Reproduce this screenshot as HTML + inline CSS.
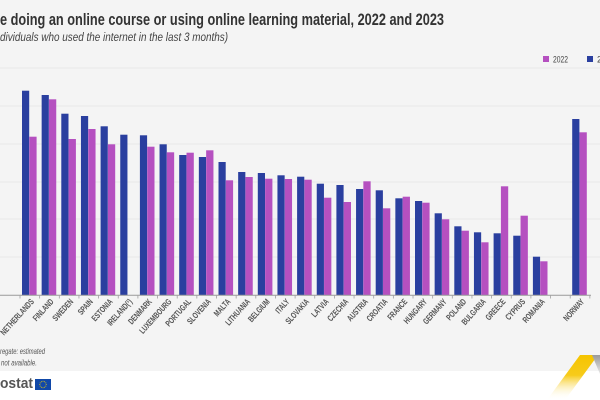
<!DOCTYPE html>
<html>
<head>
<meta charset="utf-8">
<style>
html,body{margin:0;padding:0;background:#fff;}
svg{display:block;}
</style>
</head>
<body>
<svg width="600" height="400" viewBox="0 0 600 400" xmlns="http://www.w3.org/2000/svg" font-family="'Liberation Sans', sans-serif">
  <defs>
    <linearGradient id="yg" x1="0" y1="0" x2="0" y2="1">
      <stop offset="0" stop-color="#f5c400"/>
      <stop offset="0.45" stop-color="#f7cb1a"/>
      <stop offset="1" stop-color="#ffffff" stop-opacity="0"/>
    </linearGradient>
    <linearGradient id="gg" x1="0" y1="0" x2="0" y2="1">
      <stop offset="0" stop-color="#9a9a9a"/>
      <stop offset="1" stop-color="#e8e8e8"/>
    </linearGradient>
  </defs>

  <rect x="0" y="0" width="600" height="371" fill="#f4f4f4"/>
  <rect x="0" y="371" width="600" height="29" fill="#ffffff"/>

  <!-- title -->
  <text x="0" y="25" font-size="17" font-weight="bold" fill="#333" textLength="444" lengthAdjust="spacingAndGlyphs">e doing an online course or using online learning material, 2022 and 2023</text>
  <text x="0" y="41" font-size="11.5" font-style="italic" fill="#444" textLength="228" lengthAdjust="spacingAndGlyphs">dividuals who used the internet in the last 3 months)</text>

  <!-- legend -->
  <rect x="543" y="56" width="6" height="6" fill="#b550c0"/>
  <text x="553" y="62.5" font-size="9" fill="#444" textLength="15" lengthAdjust="spacingAndGlyphs">2022</text>
  <rect x="587" y="56" width="6" height="6" fill="#2a3f9f"/>
  <text x="597" y="62.5" font-size="9" fill="#444">2</text>

  <!-- gridlines -->
  <g stroke="#e4e4e4" stroke-width="0.8">
    <line x1="0" y1="68" x2="600" y2="68"/>
    <line x1="0" y1="106" x2="600" y2="106"/>
    <line x1="0" y1="144" x2="600" y2="144"/>
    <line x1="0" y1="182" x2="600" y2="182"/>
    <line x1="0" y1="219" x2="600" y2="219"/>
    <line x1="0" y1="257" x2="600" y2="257"/>
  </g>

  <!-- bars 2023 (blue) -->
  <g fill="#2a3f9f">
    <rect x="22" y="90.7" width="7.2" height="204.3"/>
    <rect x="41.65" y="95" width="7.2" height="200"/>
    <rect x="61.3" y="113.7" width="7.2" height="181.3"/>
    <rect x="80.95" y="116" width="7.2" height="179"/>
    <rect x="100.6" y="126.3" width="7.2" height="168.7"/>
    <rect x="120.25" y="134.7" width="7.2" height="160.3"/>
    <rect x="139.9" y="135.3" width="7.2" height="159.7"/>
    <rect x="159.55" y="144.3" width="7.2" height="150.7"/>
    <rect x="179.2" y="155" width="7.2" height="140"/>
    <rect x="198.85" y="157" width="7.2" height="138"/>
    <rect x="218.5" y="162" width="7.2" height="133"/>
    <rect x="238.15" y="172" width="7.2" height="123"/>
    <rect x="257.8" y="173" width="7.2" height="122"/>
    <rect x="277.45" y="175.3" width="7.2" height="119.7"/>
    <rect x="297.1" y="176.7" width="7.2" height="118.3"/>
    <rect x="316.75" y="183.7" width="7.2" height="111.3"/>
    <rect x="336.4" y="185" width="7.2" height="110"/>
    <rect x="356.05" y="189" width="7.2" height="106"/>
    <rect x="375.7" y="190.3" width="7.2" height="104.7"/>
    <rect x="395.35" y="198.3" width="7.2" height="96.7"/>
    <rect x="415" y="201" width="7.2" height="94"/>
    <rect x="434.65" y="213.3" width="7.2" height="81.7"/>
    <rect x="454.3" y="226.3" width="7.2" height="68.7"/>
    <rect x="473.95" y="232.3" width="7.2" height="62.7"/>
    <rect x="493.6" y="233.3" width="7.2" height="61.7"/>
    <rect x="513.25" y="235.7" width="7.2" height="59.3"/>
    <rect x="532.9" y="256.7" width="7.2" height="38.3"/>
    <rect x="572.2" y="119" width="7.2" height="176"/>
  </g>

  <!-- bars 2022 (pink) -->
  <g fill="#b550c0">
    <rect x="29.3" y="136.7" width="7.3" height="158.3"/>
    <rect x="48.95" y="99.3" width="7.3" height="195.7"/>
    <rect x="68.6" y="139" width="7.3" height="156"/>
    <rect x="88.25" y="129" width="7.3" height="166"/>
    <rect x="107.9" y="144.3" width="7.3" height="150.7"/>
    <rect x="147.2" y="146.7" width="7.3" height="148.3"/>
    <rect x="166.85" y="152.3" width="7.3" height="142.7"/>
    <rect x="186.5" y="152.7" width="7.3" height="142.3"/>
    <rect x="206.15" y="150.3" width="7.3" height="144.7"/>
    <rect x="225.8" y="180.3" width="7.3" height="114.7"/>
    <rect x="245.45" y="177" width="7.3" height="118"/>
    <rect x="265.1" y="178.7" width="7.3" height="116.3"/>
    <rect x="284.75" y="179" width="7.3" height="116"/>
    <rect x="304.4" y="179.7" width="7.3" height="115.3"/>
    <rect x="324.05" y="197.7" width="7.3" height="97.3"/>
    <rect x="343.7" y="202" width="7.3" height="93"/>
    <rect x="363.35" y="181.3" width="7.3" height="113.7"/>
    <rect x="383" y="208.3" width="7.3" height="86.7"/>
    <rect x="402.65" y="196.7" width="7.3" height="98.3"/>
    <rect x="422.3" y="202.7" width="7.3" height="92.3"/>
    <rect x="441.95" y="219.3" width="7.3" height="75.7"/>
    <rect x="461.6" y="230.7" width="7.3" height="64.3"/>
    <rect x="481.25" y="242.3" width="7.3" height="52.7"/>
    <rect x="500.9" y="186.3" width="7.3" height="108.7"/>
    <rect x="520.55" y="215.7" width="7.3" height="79.3"/>
    <rect x="540.2" y="261.3" width="7.3" height="33.7"/>
    <rect x="579.5" y="132.3" width="7.3" height="162.7"/>
  </g>

  <!-- axis -->
  <line x1="0" y1="295.3" x2="591" y2="295.3" stroke="#9a9a9a" stroke-width="1"/>
  <path stroke="#a0a0a0" stroke-width="0.8" fill="none" d="M20 295v3.5M39.65 295v3.5M59.3 295v3.5M78.95 295v3.5M98.6 295v3.5M118.25 295v3.5M137.9 295v3.5M157.55 295v3.5M177.2 295v3.5M196.85 295v3.5M216.5 295v3.5M236.15 295v3.5M255.8 295v3.5M275.45 295v3.5M295.1 295v3.5M314.75 295v3.5M334.4 295v3.5M354.05 295v3.5M373.7 295v3.5M393.35 295v3.5M413 295v3.5M432.65 295v3.5M452.3 295v3.5M471.95 295v3.5M491.6 295v3.5M511.25 295v3.5M530.9 295v3.5M550.55 295v3.5M570.2 295v3.5M589.85 295v3.5"/>

  <!-- x labels -->
  <g font-size="8.6" font-weight="bold" fill="#555" text-anchor="end">
    <text transform="translate(34.5,302) rotate(-48) scale(0.7,1)">NETHERLANDS</text>
    <text transform="translate(54.15,302) rotate(-48) scale(0.7,1)">FINLAND</text>
    <text transform="translate(73.8,302) rotate(-48) scale(0.7,1)">SWEDEN</text>
    <text transform="translate(93.45,302) rotate(-48) scale(0.7,1)">SPAIN</text>
    <text transform="translate(113.1,302) rotate(-48) scale(0.7,1)">ESTONIA</text>
    <text transform="translate(132.75,302) rotate(-48) scale(0.7,1)">IRELAND(¹)</text>
    <text transform="translate(152.4,302) rotate(-48) scale(0.7,1)">DENMARK</text>
    <text transform="translate(172.05,302) rotate(-48) scale(0.7,1)">LUXEMBOURG</text>
    <text transform="translate(191.7,302) rotate(-48) scale(0.7,1)">PORTUGAL</text>
    <text transform="translate(211.35,302) rotate(-48) scale(0.7,1)">SLOVENIA</text>
    <text transform="translate(231,302) rotate(-48) scale(0.7,1)">MALTA</text>
    <text transform="translate(250.65,302) rotate(-48) scale(0.7,1)">LITHUANIA</text>
    <text transform="translate(270.3,302) rotate(-48) scale(0.7,1)">BELGIUM</text>
    <text transform="translate(289.95,302) rotate(-48) scale(0.7,1)">ITALY</text>
    <text transform="translate(309.6,302) rotate(-48) scale(0.7,1)">SLOVAKIA</text>
    <text transform="translate(329.25,302) rotate(-48) scale(0.7,1)">LATVIA</text>
    <text transform="translate(348.9,302) rotate(-48) scale(0.7,1)">CZECHIA</text>
    <text transform="translate(368.55,302) rotate(-48) scale(0.7,1)">AUSTRIA</text>
    <text transform="translate(388.2,302) rotate(-48) scale(0.7,1)">CROATIA</text>
    <text transform="translate(407.85,302) rotate(-48) scale(0.7,1)">FRANCE</text>
    <text transform="translate(427.5,302) rotate(-48) scale(0.7,1)">HUNGARY</text>
    <text transform="translate(447.15,302) rotate(-48) scale(0.7,1)">GERMANY</text>
    <text transform="translate(466.8,302) rotate(-48) scale(0.7,1)">POLAND</text>
    <text transform="translate(486.45,302) rotate(-48) scale(0.7,1)">BULGARIA</text>
    <text transform="translate(506.1,302) rotate(-48) scale(0.7,1)">GREECE</text>
    <text transform="translate(525.75,302) rotate(-48) scale(0.7,1)">CYPRUS</text>
    <text transform="translate(545.4,302) rotate(-48) scale(0.7,1)">ROMANIA</text>
    <text transform="translate(584.7,302) rotate(-48) scale(0.7,1)">NORWAY</text>
  </g>

  <!-- footnotes -->
  <text x="0" y="354" font-size="8.5" font-style="italic" fill="#555" textLength="45" lengthAdjust="spacingAndGlyphs">regate: estimated</text>
  <text x="1" y="365.5" font-size="8.5" font-style="italic" fill="#555" textLength="36" lengthAdjust="spacingAndGlyphs">not available.</text>

  <!-- logo -->
  <text x="0" y="388" font-size="15" font-weight="bold" fill="#555" textLength="33" lengthAdjust="spacingAndGlyphs">ostat</text>
  <rect x="35" y="379" width="16" height="11" fill="#1048a8"/>
  <g fill="#f5d000">
    <circle cx="43" cy="381.3" r="0.5"/>
    <circle cx="44.6" cy="381.7" r="0.5"/>
    <circle cx="45.8" cy="382.9" r="0.5"/>
    <circle cx="46.2" cy="384.5" r="0.5"/>
    <circle cx="45.8" cy="386.1" r="0.5"/>
    <circle cx="44.6" cy="387.3" r="0.5"/>
    <circle cx="43" cy="387.7" r="0.5"/>
    <circle cx="41.4" cy="387.3" r="0.5"/>
    <circle cx="40.2" cy="386.1" r="0.5"/>
    <circle cx="39.8" cy="384.5" r="0.5"/>
    <circle cx="40.2" cy="382.9" r="0.5"/>
    <circle cx="41.4" cy="381.7" r="0.5"/>
  </g>

  <!-- chevron decoration -->
  <polygon points="580,355 598,355 565,400 547,400" fill="url(#yg)"/>
  <polygon points="592,355 600,355 600,374" fill="url(#gg)"/>
</svg>
</body>
</html>
